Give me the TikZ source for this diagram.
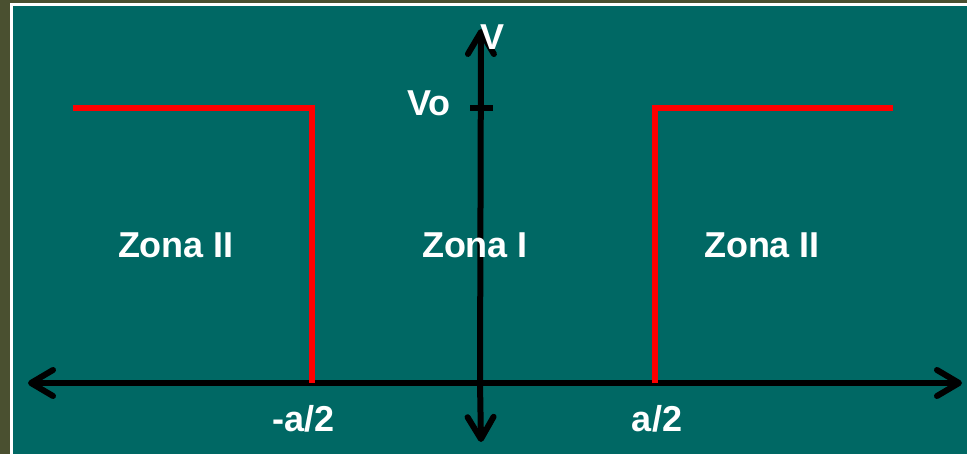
\documentclass[tikz,border=0pt]{standalone}
\usepackage{fontspec}
\setmainfont{Liberation Sans}
\usetikzlibrary{arrows.meta}
\definecolor{olive}{HTML}{4A5030}
\definecolor{teal}{HTML}{006864}
\definecolor{redline}{HTML}{FF0000}
\tikzset{
  lbl/.style={text=white, font=\fontsize{36bp}{42bp}\selectfont\bfseries, inner sep=0pt, anchor=base},
  axis/.style={line width=6bp, draw=black, line cap=round, -{Straight Barb[length=22bp, width=26bp, round]}},
  wall/.style={line width=6bp, draw=redline},
  tick/.style={line width=6bp, draw=black}
}
\begin{document}
\begin{tikzpicture}[x=1bp, y=-1bp]
\useasboundingbox (0,0) rectangle (967,454);
\fill[olive] (0,0) rectangle (967,454);
\fill[white] (10,3) rectangle (967,454);
\fill[teal] (13,6) rectangle (967,454);
% axes
\coordinate (xc) at (480,383);
\coordinate (xl) at (28,383);
\coordinate (xr) at (962,383);
\coordinate (yt) at (481,29);
\coordinate (yb) at (481,442);
\draw[axis] (xc) -- (xl);
\draw[axis] (xc) -- (xr);
\draw[axis] (xc) -- (yt);
\draw[axis] (xc) -- (yb);
% tick
\coordinate (t1) at (470,108);
\coordinate (t2) at (493,108);
\draw[tick] (t1) -- (t2);
% walls
\coordinate (l1) at (73,108);
\coordinate (l2) at (312,108);
\coordinate (l3) at (312,383);
\coordinate (r1) at (655,383);
\coordinate (r2) at (655,108);
\coordinate (r3) at (893,108);
\draw[wall, line join=miter] (l1) -- (l2) -- (l3);
\draw[wall, line join=miter] (r1) -- (r2) -- (r3);
% labels
\node[lbl] (V) at (493,50) {V};
\node[lbl] (Vo) at (429,116) {Vo};
\node[lbl] (z1) at (176,258) {Zona II};
\node[lbl] (z2) at (475,258) {Zona I};
\node[lbl] (z3) at (762,258) {Zona II};
\node[lbl] (ma) at (304,431) {-a/2};
\node[lbl] (pa) at (657,431) {a/2};
\end{tikzpicture}
\end{document}
